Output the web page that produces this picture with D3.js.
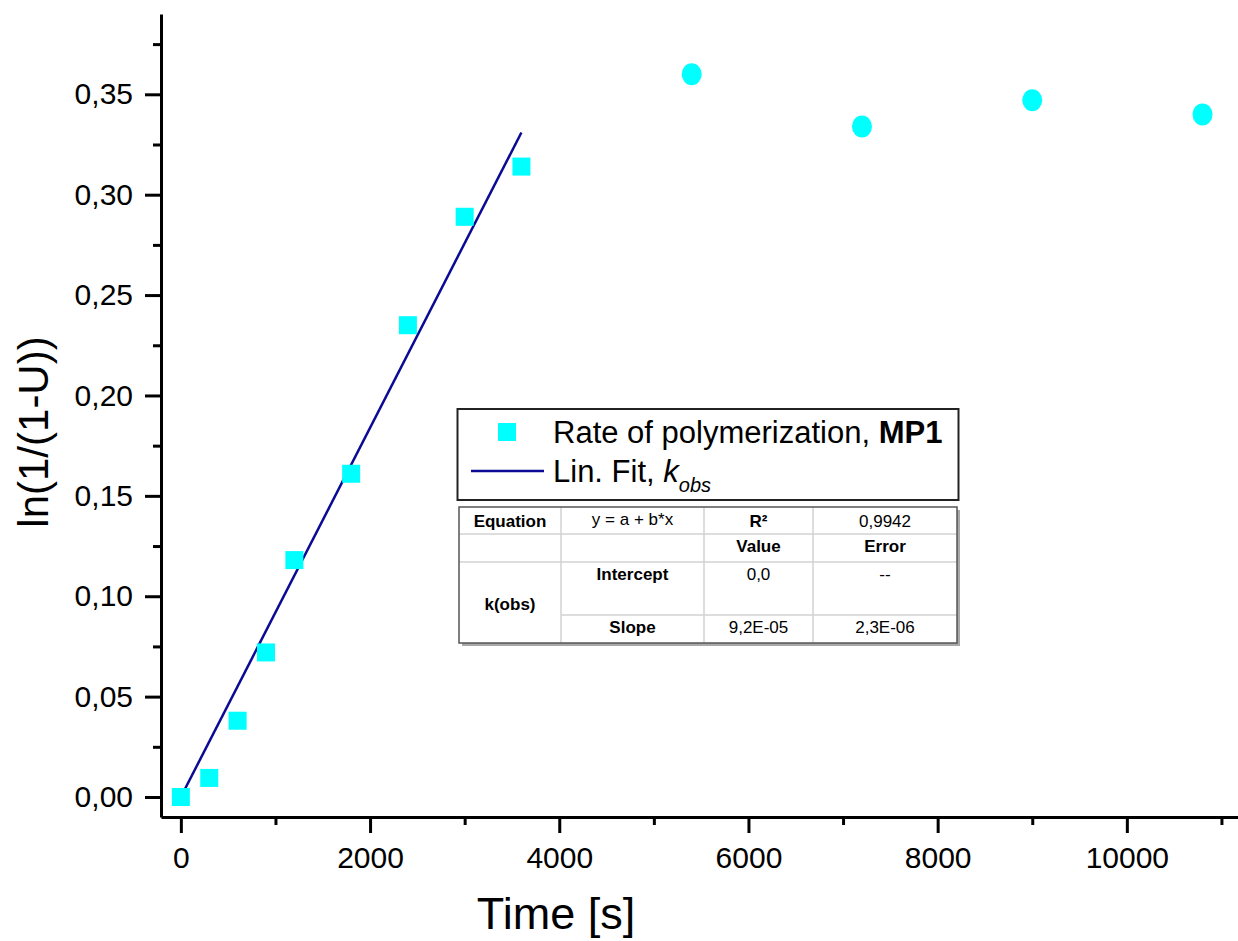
<!DOCTYPE html>
<html><head><meta charset="utf-8">
<script src="https://cdn.jsdelivr.net/npm/d3@7"></script>
<style>
body{margin:0;background:#fff}
svg{display:block}
text{font-family:"Liberation Sans",Arial,Helvetica,sans-serif}
</style>
</head><body><svg id="c" width="1238" height="941"></svg>
<script>
// ---- data ----
const rateTime = [0, 300, 600, 900, 1200, 1800, 2400, 3000, 3600];
const rateValue = [0.000, 0.0095, 0.038, 0.072, 0.118, 0.161, 0.235, 0.289, 0.314];
const plateauTime = [5400, 7200, 9000, 10800];
const plateauValue = [0.360, 0.334, 0.347, 0.340];
const fitTime = [0, 3600];
const fitValue = [0, 0.331];
const xTicks = [0, 2000, 4000, 6000, 8000, 10000];
const xTickLabels = ["0", "2000", "4000", "6000", "8000", "10000"];
const xMinorTicks = [1000, 3000, 5000, 7000, 9000, 11000];
const yTicks = [0, 0.05, 0.10, 0.15, 0.20, 0.25, 0.30, 0.35];
const yTickLabels = ["0,00", "0,05", "0,10", "0,15", "0,20", "0,25", "0,30", "0,35"];
const yMinorTicks = [0.025, 0.075, 0.125, 0.175, 0.225, 0.275, 0.325, 0.375];
const tableHeader = ["Equation", "y = a + b*x", "R²", "0,9942"];
const tableSubHeader = ["", "", "Value", "Error"];
const tableIntercept = ["k(obs)", "Intercept", "0,0", "--"];
const tableSlope = ["", "Slope", "9,2E-05", "2,3E-06"];

// ---- chart ----
(function () {
const svg = d3.select("#c");
const W = 1238, H = 941;
const mLeft = 161, mRight = 1238, mTop = 14, mBottom = 817;
const x = d3.scaleLinear().domain([-210, 11175]).range([mLeft, mRight]);
const y = d3.scaleLinear().domain([-0.00996, 0.39]).range([mBottom, mTop]);

svg.append("rect").attr("width", W).attr("height", H).attr("fill", "#fff");

// minor ticks
const xMinor = svg.append("g").attr("transform", `translate(0,${mBottom})`)
  .call(d3.axisBottom(x).tickValues(xMinorTicks).tickSize(8).tickFormat(""));
xMinor.select(".domain").remove();
const yMinor = svg.append("g").attr("transform", `translate(${mLeft},0)`)
  .call(d3.axisLeft(y).tickValues(yMinorTicks).tickSize(8).tickFormat(""));
yMinor.select(".domain").remove();

// major axes
const xAxis = svg.append("g").attr("transform", `translate(0,${mBottom})`)
  .call(d3.axisBottom(x).tickValues(xTicks).tickSize(16).tickSizeOuter(0).tickPadding(14)
    .tickFormat((d, i) => xTickLabels[i]));
const yAxis = svg.append("g").attr("transform", `translate(${mLeft},0)`)
  .call(d3.axisLeft(y).tickValues(yTicks).tickSize(16).tickSizeOuter(0).tickPadding(12)
    .tickFormat((d, i) => yTickLabels[i]));

[xAxis, yAxis, xMinor, yMinor].forEach(g => {
  g.attr("font-family", null).attr("font-size", null);
  g.selectAll("line").attr("stroke", "#000").attr("stroke-width", 3);
  g.selectAll(".domain").attr("stroke", "#000").attr("stroke-width", 3);
  g.selectAll("text").attr("fill", "#000").style("font-size", "30px");
});

// axis titles
svg.append("text").attr("x", 556).attr("y", 929).attr("text-anchor", "middle")
  .style("font-size", "45px").text("Time [s]");
svg.append("text").attr("transform", "translate(48,432) rotate(-90)").attr("text-anchor", "middle")
  .style("font-size", "42px").text("ln(1/(1-U))");

// fit line
svg.append("path")
  .datum(fitTime.map((t, i) => [t, fitValue[i]]))
  .attr("d", d3.line().x(d => x(d[0])).y(d => y(d[1])))
  .attr("fill", "none").attr("stroke", "#0a0a94").attr("stroke-width", 2.5);

// squares
const sq = 18;
svg.append("g").selectAll("rect").data(rateTime.map((t, i) => [t, rateValue[i]])).join("rect")
  .attr("x", d => x(d[0]) - sq / 2).attr("y", d => y(d[1]) - sq / 2)
  .attr("width", sq).attr("height", sq).attr("fill", "#00ffff");

// circles
svg.append("g").selectAll("ellipse").data(plateauTime.map((t, i) => [t, plateauValue[i]])).join("ellipse")
  .attr("cx", d => x(d[0])).attr("cy", d => y(d[1]))
  .attr("rx", 10).attr("ry", 11).attr("fill", "#00ffff");

// legend
const lg = svg.append("g");
lg.append("rect").attr("x", 457.5).attr("y", 409).attr("width", 501).attr("height", 91)
  .attr("fill", "#fff").attr("stroke", "#222").attr("stroke-width", 2);
lg.append("rect").attr("x", 498).attr("y", 423).attr("width", 18).attr("height", 18).attr("fill", "#00ffff");
lg.append("line").attr("x1", 471).attr("x2", 544).attr("y1", 471).attr("y2", 471)
  .attr("stroke", "#0a0a94").attr("stroke-width", 2.5);
const t1 = lg.append("text").attr("x", 553).attr("y", 443).style("font-size", "31px");
t1.append("tspan").text("Rate of polymerization, ");
t1.append("tspan").attr("font-weight", "bold").text("MP1");
const t2 = lg.append("text").attr("x", 553).attr("y", 482).style("font-size", "31px");
t2.append("tspan").text("Lin. Fit, ");
t2.append("tspan").attr("font-style", "italic").text("k");
t2.append("tspan").attr("font-style", "italic").attr("dy", 10).style("font-size", "20px").text("obs");

// table
const tb = svg.append("g");
const cx = [459, 561, 704, 813, 957];
const ry = [507, 534, 562, 615, 643];
tb.append("rect").attr("x", cx[0] + 3).attr("y", ry[0] + 3).attr("width", cx[4] - cx[0]).attr("height", ry[4] - ry[0])
  .attr("fill", "#a8a8a8");
tb.append("rect").attr("x", cx[0]).attr("y", ry[0]).attr("width", cx[4] - cx[0]).attr("height", ry[4] - ry[0])
  .attr("fill", "#fff");
const grid = "#d2d2d2";
[1, 2].forEach(r => tb.append("line").attr("x1", cx[0]).attr("x2", cx[4]).attr("y1", ry[r]).attr("y2", ry[r])
  .attr("stroke", grid).attr("stroke-width", 1.5));
tb.append("line").attr("x1", cx[1]).attr("x2", cx[4]).attr("y1", ry[3]).attr("y2", ry[3])
  .attr("stroke", grid).attr("stroke-width", 1.5);
[1, 2, 3].forEach(c => tb.append("line").attr("x1", cx[c]).attr("x2", cx[c]).attr("y1", ry[0]).attr("y2", ry[4])
  .attr("stroke", grid).attr("stroke-width", 1.5));
tb.append("rect").attr("x", cx[0]).attr("y", ry[0]).attr("width", cx[4] - cx[0]).attr("height", ry[4] - ry[0])
  .attr("fill", "none").attr("stroke", "#555").attr("stroke-width", 1.5);

const colMid = i => (cx[i] + cx[i + 1]) / 2;
function cell(col, base, txt, bold) {
  if (!txt) return;
  tb.append("text").attr("x", colMid(col)).attr("y", base).attr("text-anchor", "middle")
    .attr("font-weight", bold ? "bold" : null).style("font-size", "17px").text(txt);
}
const bases = [527, 552, 580, 633];
tableHeader.forEach((t, i) => cell(i, i === 1 ? 525 : bases[0], t, i === 0 || i === 2));
tableSubHeader.forEach((t, i) => cell(i, bases[1], t, true));
tableIntercept.forEach((t, i) => cell(i, i === 0 ? 610 : bases[2], t, i <= 1));
tableSlope.forEach((t, i) => cell(i, bases[3], t, i <= 1));
})();
</script>
</body></html>
